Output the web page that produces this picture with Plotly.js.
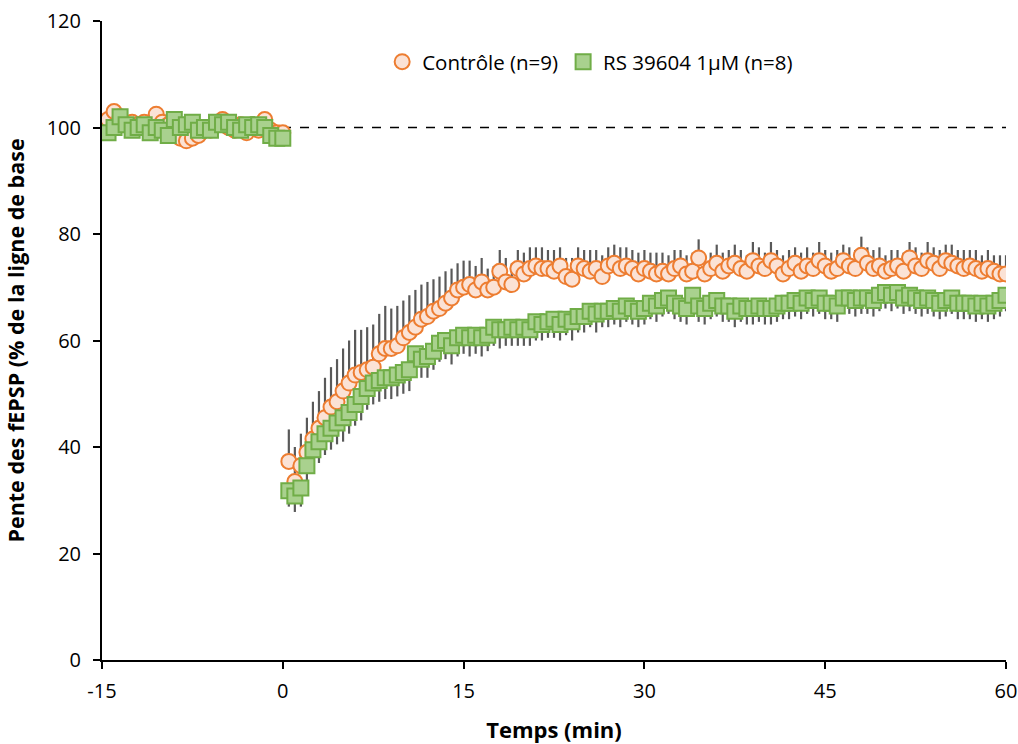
<!DOCTYPE html>
<html>
<head>
<meta charset="utf-8">
<script src="https://cdn.plot.ly/plotly-3.0.1.min.js"></script>
<style>body{margin:0;padding:0;background:#fff;} #chart{width:1018px;height:744px;}</style>
</head>
<body>
<div id="chart"></div>
<script>
// Time (min)
var timeBase = [-14.5,-14,-13.5,-13,-12.5,-12,-11.5,-11,-10.5,-10,-9.5,-9,-8.5,-8,-7.5,-7,-6.5,-6,-5.5,-5,-4.5,-4,-3.5,-3,-2.5,-2,-1.5,-1,-0.5,0];
var timePost = [0.5,1,1.5,2,2.5,3,3.5,4,4.5,5,5.5,6,6.5,7,7.5,8,8.5,9,9.5,10,10.5,11,11.5,12,12.5,13,13.5,14,14.5,15,
15.5,16,16.5,17,17.5,18,18.5,19,19.5,20,20.5,21,21.5,22,22.5,23,23.5,24,24.5,25,25.5,26,26.5,27,27.5,28,28.5,29,29.5,30,
30.5,31,31.5,32,32.5,33,33.5,34,34.5,35,35.5,36,36.5,37,37.5,38,38.5,39,39.5,40,40.5,41,41.5,42,42.5,43,43.5,44,44.5,45,
45.5,46,46.5,47,47.5,48,48.5,49,49.5,50,50.5,51,51.5,52,52.5,53,53.5,54,54.5,55,55.5,56,56.5,57,57.5,58,58.5,59,59.5,60];

// Contrôle (n=9)
var ctrlBase = [101.5,103,102,100.5,101,100.5,101,100,102.5,101,100.5,101,98,97.5,98,98.5,100,99.5,100.5,101.5,100,99.5,100.5,99,100.5,99.5,101.5,99.5,99,99];
var ctrlPost = [37.3,33.5,36.5,39,41.5,43.5,45.5,47.5,48.5,50.5,52,53.5,54,54.5,55,57.5,58.5,58.5,59,60.5,61.5,62.5,64,64.5,65.5,66,67,68,69.5,70,
70.5,69.5,71,69.5,70,73,71,70.5,73.5,72.5,73.5,74,73.5,73.5,73,74,72,71.5,74,73.5,73,73.5,72,74,74.5,73.5,74,73.5,72.5,73.5,
73,72.5,73,72.5,73.5,74,72.5,73,75.5,72.5,73.5,74.5,73,74,74.5,73.5,73,75,74,73.5,75,74,72.5,73.5,74.5,73,74,73.5,75,74,
73,73.5,75,74,73.5,76,74.5,73.5,74,73,73.5,74,73,75.5,74,73.5,75,74.5,73.5,75,74.5,74,73.5,74,73.5,73,73.5,73,72.5,72.5];
var ctrlErrBase = [1,1,1,1,1,1,1,1,1,1,1,1,1,1,1,1,1,1,1,1,1,1,1,1,1,1,1,1,1,1];
var ctrlErrPost = [6,6.5,6,6.5,7,7,7.5,7.5,8,8,8,8.5,8,8,8,7.5,8,7.5,7.5,7,7,7,6.5,6.5,6,6,6,5.5,5,5,
4.5,4.5,4.5,4,4,4,4.5,4,3.5,4,4,3.5,4,3.5,4,3.5,3.5,4,3.5,3.5,4,3.5,4,3.5,3.5,4,3.5,3.5,4,3.5,
3.5,4,3.5,3.5,3.5,3,3.5,3.5,3.5,3.5,3,3.5,3.5,3,3.5,3.5,3,3.5,3.5,3,3.5,3,3.5,3.5,3,3.5,3.5,3,3.5,3,
3.5,3.5,3,3.5,3.5,3.5,3,3.5,3.5,3,3.5,3,3.5,3,3.5,3,3.5,3,3.5,3,3.5,3,3.5,3,3.5,3,3.5,3,3.5,3.5];

// RS 39604 1µM (n=8)
var rsBase = [99,100,102,100.5,99.5,100,100.5,99,100,99.5,98.5,101.5,100,100.5,101,99.5,100,99.5,101,100.5,101,100,99.5,100.5,100,100.5,100,98.5,98,98];
var rsPost = [31.8,30.8,32.3,36.5,39.5,41,42.5,43.5,44.5,45.5,46.5,48,49.5,51,52,52.5,53,53,53.5,54,54.5,57.5,56.5,57,58,59.5,60,59,60.5,61,
60.5,61,60.5,61,62.5,62,62,62.5,62,62.5,62,63.5,63,63.5,64,63,64,63.5,64.5,64.5,65.5,65,65.5,65.5,66,65.5,66.5,66,65.5,66,
67,66.5,67.5,68,67,66.5,66,68.5,66.5,66,67,67.5,66.5,66.5,65.5,66.5,66,66,66.5,66,66,66.5,67,67,67.5,67,68,67.5,68,67,
67,66.5,68,68,67.5,68,68,67.5,68.5,69,68.5,69,68,68.5,68,67.5,68,67.5,67,67.5,68,67,67,67,66.5,67,66.5,67,67.5,68.5];
var rsErrBase = [1,1,1,1,1,1,1,1,1,1,1,1,1,1,1,1,1,1,1,1,1,1,1,1,1,1,1,1,1,1];
var rsErrPost = [3,3,3.5,3.5,4,4,4,4,4,4.5,4,4,4.5,4,4,4,4,4,4,4,4,4,3.5,4,3.5,3.5,3.5,3.5,3.5,3.5,
3.5,3.5,3.5,3,3.5,3.5,3,3.5,3,3.5,3,3.5,3,3,3.5,3,3,3.5,3,3,3,3.5,3,3,3,3,3,3,3,3,
3,3,3,3,3,3,3,3,3,3,3,3,3,3,3,3,3,3,3,3,3,3,3,3,3,3,3,3,3,3,
3,3,3,3,3,3,3,3,3,3,3,3,3,3,3,3,3,3,3,3,3,3,3,3,3,3,3,3,3,3];

var xTicks = [-15,0,15,30,45,60];
var yTicks = [0,20,40,60,80,100,120];

var time = timeBase.concat(timePost);
var ctrl = ctrlBase.concat(ctrlPost);
var ctrlErr = ctrlErrBase.concat(ctrlErrPost);
var rs = rsBase.concat(rsPost);
var rsErr = rsErrBase.concat(rsErrPost);
var zeros = time.map(function(){return 0;});

var FONT = "Open Sans, Liberation Sans, sans-serif";

var traces = [
  {
    x: time, y: ctrl, type: 'scatter', mode: 'markers', name: 'Contrôle (n=9)',
    marker: {symbol: 'circle', size: 15, color: '#FBE2D5', line: {color: '#ED7D31', width: 2}},
    error_y: {type: 'data', symmetric: false, array: ctrlErr, arrayminus: zeros, color: '#595959', thickness: 2.2, width: 0}
  },
  {
    x: time, y: rs, type: 'scatter', mode: 'markers', name: 'RS 39604 1µM (n=8)',
    marker: {symbol: 'square', size: 15, color: '#A9D18E', line: {color: '#70AD47', width: 2}},
    error_y: {type: 'data', symmetric: false, array: zeros, arrayminus: rsErr, color: '#595959', thickness: 2.2, width: 0}
  }
];

var layout = {
  width: 1018, height: 744,
  margin: {l: 102, r: 12, t: 21, b: 84},
  paper_bgcolor: '#fff', plot_bgcolor: '#fff',
  font: {family: FONT, size: 18, color: '#000'},
  showlegend: true,
  legend: {orientation: 'h', x: 0.54, xanchor: 'center', y: 0.936, yanchor: 'middle',
           font: {family: FONT, size: 20.5, color: '#000'}, bgcolor: 'rgba(0,0,0,0)', itemwidth: 20},
  xaxis: {
    range: [-15, 60], tickvals: xTicks, ticktext: xTicks.map(String),
    showgrid: false, zeroline: false, showline: true, linecolor: '#000', linewidth: 2,
    ticks: 'outside', ticklen: 7, tickwidth: 2, tickcolor: '#000', ticklabelstandoff: 5,
    tickfont: {family: FONT, size: 20, color: '#000'},
    title: {text: '<b>Temps (min)</b>', font: {family: FONT, size: 22, color: '#000'}, standoff: 20}
  },
  yaxis: {
    range: [0, 120], tickvals: yTicks, ticktext: yTicks.map(String),
    showgrid: false, zeroline: false, showline: true, linecolor: '#000', linewidth: 2,
    ticks: 'outside', ticklen: 7, tickwidth: 2, tickcolor: '#000', ticklabelstandoff: 8,
    tickfont: {family: FONT, size: 20, color: '#000'},
    title: {text: '<b>Pente des fEPSP (% de la ligne de base</b>', font: {family: FONT, size: 21.5, color: '#000'}, standoff: 16}
  },
  shapes: [{type: 'line', xref: 'x', yref: 'y', x0: -15, x1: 60, y0: 100, y1: 100,
            line: {color: '#000', width: 1.5, dash: 'dash'}, layer: 'below'}]
};

Plotly.newPlot('chart', traces, layout, {displayModeBar: false, staticPlot: true});
</script>
</body>
</html>
